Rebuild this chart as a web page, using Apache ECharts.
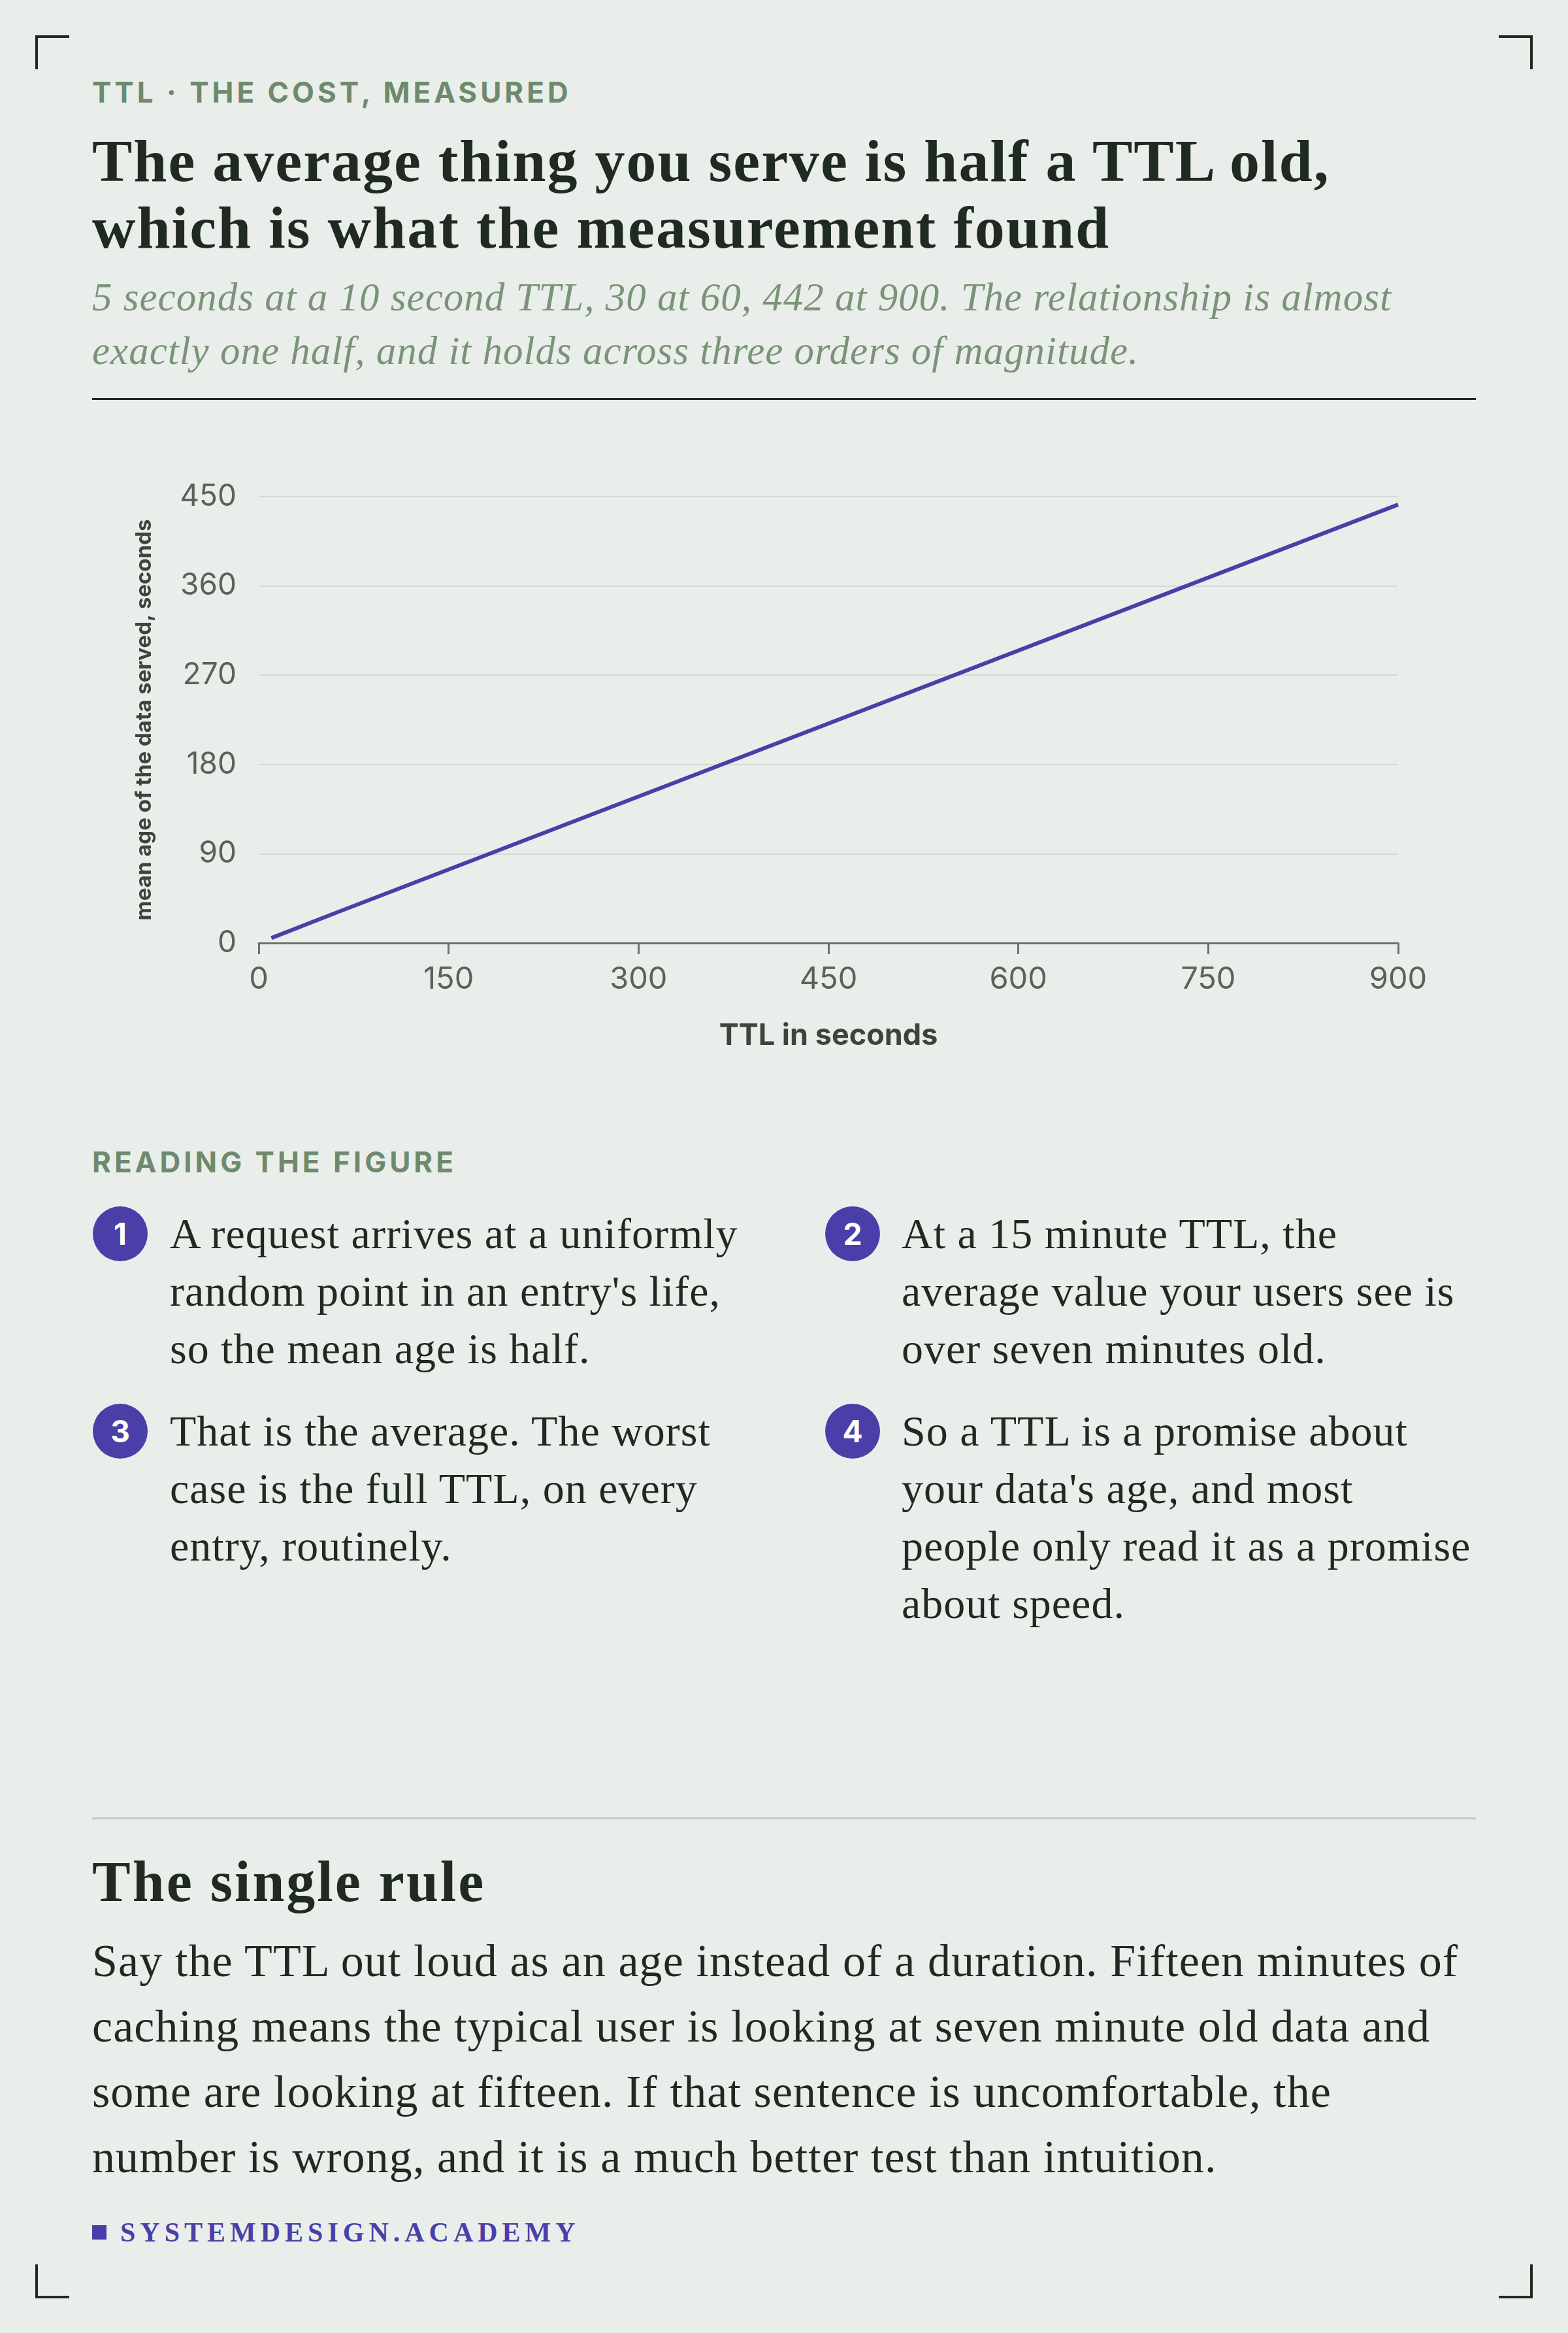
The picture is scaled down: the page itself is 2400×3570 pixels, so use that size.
<!DOCTYPE html>
<html>
<head>
<meta charset="utf-8">
<script src="https://cdn.jsdelivr.net/npm/echarts@6/dist/echarts.min.js"></script>
<style>
  html, body { margin: 0; padding: 0; }
  body { width: 2400px; height: 3570px; background: #eaeeea; position: relative; overflow: hidden; color: #1f2a22; }
  .abs { position: absolute; white-space: nowrap; }
  .corner { position: absolute; width: 48px; height: 48px; border-color: #1f2a22; border-style: solid; border-width: 0; }
  .kicker { font-family: Inter, "Liberation Sans", sans-serif; font-weight: 700; font-size: 44px; line-height: 44px; letter-spacing: 5px; color: #6e8a6c; }
  .title { font-family: "Liberation Serif", serif; font-weight: 700; font-size: 92px; line-height: 102px; letter-spacing: 2px; color: #1f2a22; }
  .sub { font-family: "Liberation Serif", serif; font-style: italic; font-size: 61px; line-height: 82px; letter-spacing: 1px; color: #7a9478; }
  .rule { position: absolute; left: 141px; width: 2118px; height: 3px; background: #1f2a22; }
  .item { font-family: "Liberation Serif", serif; font-size: 66px; line-height: 88px; letter-spacing: 1px; color: #1f2a22; }
  .num { position: absolute; width: 84px; height: 84px; border-radius: 50%; background: #4a3fa8; color: #fff; font-family: Inter, "Liberation Sans", sans-serif; font-weight: 700; font-size: 46px; line-height: 84px; text-align: center; }
  .h2 { font-family: "Liberation Serif", serif; font-weight: 700; font-size: 88px; line-height: 90px; letter-spacing: 3px; }
  .para { font-family: "Liberation Serif", serif; font-size: 70px; line-height: 100px; letter-spacing: 1.1px; }
  .foot { font-family: "Liberation Serif", serif; font-weight: 700; font-size: 42px; line-height: 42px; letter-spacing: 7px; color: #4a3fa8; }
  #chart { position: absolute; left: 0; top: 640px; width: 2400px; height: 1040px; }
</style>
</head>
<body>
<div class="corner" style="left:54px;top:54px;border-left-width:4px;border-top-width:4px;"></div>
<div class="corner" style="right:54px;top:54px;border-right-width:4px;border-top-width:4px;"></div>
<div class="corner" style="left:54px;bottom:53px;border-left-width:4px;border-bottom-width:4px;"></div>
<div class="corner" style="right:54px;bottom:53px;border-right-width:4px;border-bottom-width:4px;"></div>

<div class="abs kicker" style="left:141px;top:119px;">TTL · THE COST, MEASURED</div>
<div class="abs title" style="left:141px;top:195px;">The average thing you serve is half a TTL old,<br>which is what the measurement found</div>
<div class="abs sub" style="left:141px;top:414px;">5 seconds at a 10 second TTL, 30 at 60, 442 at 900. The relationship is almost<br>exactly one half, and it holds across three orders of magnitude.</div>
<div class="rule" style="top:609px;"></div>

<div id="chart"></div>

<div class="abs kicker" style="left:141px;top:1756px;">READING THE FIGURE</div>

<div class="num" style="left:142px;top:1846px;">1</div>
<div class="abs item" style="left:260px;top:1844px;">A request arrives at a uniformly<br>random point in an entry's life,<br>so the mean age is half.</div>
<div class="num" style="left:1263px;top:1846px;">2</div>
<div class="abs item" style="left:1380px;top:1844px;">At a 15 minute TTL, the<br>average value your users see is<br>over seven minutes old.</div>
<div class="num" style="left:142px;top:2148px;">3</div>
<div class="abs item" style="left:260px;top:2146px;">That is the average. The worst<br>case is the full TTL, on every<br>entry, routinely.</div>
<div class="num" style="left:1263px;top:2148px;">4</div>
<div class="abs item" style="left:1380px;top:2146px;">So a TTL is a promise about<br>your data's age, and most<br>people only read it as a promise<br>about speed.</div>

<div class="rule" style="top:2781px;background:#c5cbc5;"></div>
<div class="abs h2" style="left:141px;top:2835px;">The single rule</div>
<div class="abs para" style="left:141px;top:2951px;">Say the TTL out loud as an age instead of a duration. Fifteen minutes of<br>caching means the typical user is looking at seven minute old data and<br>some are looking at fifteen. If that sentence is uncomfortable, the<br>number is wrong, and it is a much better test than intuition.</div>

<div class="abs" style="left:141px;top:3405px;width:22px;height:22px;background:#4a3fa8;"></div>
<div class="abs foot" style="left:184px;top:3395px;">SYSTEMDESIGN.ACADEMY</div>

<script>
// measured points: TTL (s) -> mean age of data served (s)
const ttlSeconds = [10, 60, 900];
const meanAgeSeconds = [5, 30, 442];

const xTicks = { min: 0, max: 900, interval: 150 };
const yTicks = { min: 0, max: 450, interval: 90 };

const points = ttlSeconds.map((t, i) => [t, meanAgeSeconds[i]]);

const chart = echarts.init(document.getElementById('chart'), null, { renderer: 'canvas' });
chart.setOption({
  animation: false,
  backgroundColor: 'transparent',
  grid: { left: 396, right: 260, top: 120, bottom: 237 },
  xAxis: {
    type: 'value',
    min: xTicks.min, max: xTicks.max, interval: xTicks.interval,
    name: 'TTL in seconds',
    nameLocation: 'middle',
    nameGap: 120,
    nameTextStyle: { fontFamily: 'Inter', fontWeight: 700, fontSize: 45, color: '#3c453d' },
    axisLine: { show: true, lineStyle: { color: '#6b716b', width: 3 } },
    axisTick: { show: true, length: 17, lineStyle: { color: '#6b716b', width: 3 } },
    axisLabel: { fontFamily: 'Inter', fontSize: 47, color: '#5b625b', margin: 32 },
    splitLine: { show: false }
  },
  yAxis: {
    type: 'value',
    min: yTicks.min, max: yTicks.max, interval: yTicks.interval,
    name: 'mean age of the data served, seconds',
    nameLocation: 'middle',
    nameGap: 158,
    nameTextStyle: { fontFamily: 'Inter', fontWeight: 700, fontSize: 33, color: '#3c453d' },
    axisLine: { show: false },
    axisTick: { show: false },
    axisLabel: { fontFamily: 'Inter', fontSize: 46, color: '#5b625b', margin: 34 },
    splitLine: { show: true, lineStyle: { color: '#d5dad5', width: 2 } }
  },
  series: [{
    type: 'line',
    data: points,
    showSymbol: false,
    lineStyle: { color: '#4a3fa8', width: 6 },
    itemStyle: { color: '#4a3fa8' }
  }]
});
</script>
</body>
</html>
